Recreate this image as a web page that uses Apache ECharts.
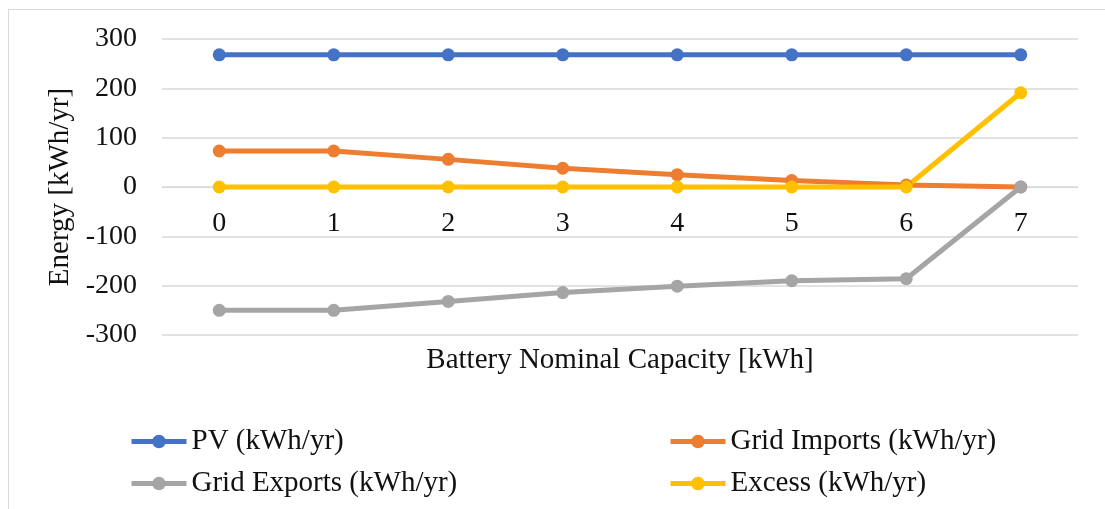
<!DOCTYPE html>
<html>
<head>
<meta charset="utf-8">
<script src="https://cdn.jsdelivr.net/npm/echarts@6/dist/echarts.min.js"></script>
<style>
  html, body { margin: 0; padding: 0; background: #fff; }
  #chart { width: 1105px; height: 509px; }
</style>
</head>
<body>
<div id="chart"></div>
<script>
// Battery nominal capacity steps (kWh)
const capacities = ['0', '1', '2', '3', '4', '5', '6', '7'];

// Annual energy flows per capacity (kWh/yr)
const pv          = [268, 268, 268, 268, 268, 268, 268, 268];
const gridImports = [73, 73, 56, 38, 25, 13, 4, 0];
const gridExports = [-250, -250, -232, -214, -201, -190, -186, 0];
const excess      = [0, 0, 0, 0, 0, 0, 0, 191];

const yTicks = [-300, -200, -100, 0, 100, 200, 300];

const FONT = '"Liberation Serif", "Times New Roman", serif';
const TEXT = '#111';

// plot box: top 39, bottom edge at 509 - 174 = 335; the zero line sits halfway
const GRID_TOP = 39, GRID_BOTTOM = 174;
const zeroOffset = -((509 - GRID_BOTTOM) - GRID_TOP) / 2;

function lineSeries(name, data, color) {
  return {
    name: name,
    type: 'line',
    data: data,
    symbol: 'circle',
    symbolSize: 13,
    lineStyle: { color: color, width: 5 },
    itemStyle: { color: color },
    animation: false
  };
}

const legendCommon = {
  orient: 'vertical',
  top: 427,
  padding: 0,
  itemWidth: 55, itemHeight: 17, itemGap: 13, itemTextGap: -1,
  lineStyle: { width: 5 },
  textStyle: { fontFamily: FONT, fontSize: 29, color: TEXT, lineHeight: 28 }
};

const chart = echarts.init(document.getElementById('chart'), null, { renderer: 'canvas' });

chart.setOption({
  backgroundColor: '#fff',
  animation: false,
  textStyle: { fontFamily: FONT, color: TEXT },
  graphic: [{
    type: 'rect',
    shape: { x: 8.5, y: 9.5, width: 1200, height: 600 },
    style: { fill: 'none', stroke: '#D9D9D9', lineWidth: 1 },
    silent: true,
    z: -10
  }],
  grid: {
    left: 162, right: 27, top: GRID_TOP, bottom: GRID_BOTTOM,
    containLabel: false,
    outerBoundsMode: 'none'
  },
  legend: [
    Object.assign({ data: ['PV (kWh/yr)', 'Grid Exports (kWh/yr)'], left: 129 }, legendCommon),
    Object.assign({ data: ['Grid Imports (kWh/yr)', 'Excess (kWh/yr)'], left: 668 }, legendCommon)
  ],
  xAxis: {
    type: 'category',
    data: capacities,
    boundaryGap: true,
    position: 'bottom',
    offset: zeroOffset,
    name: 'Battery Nominal Capacity [kWh]',
    nameLocation: 'middle',
    nameGap: 159,
    nameMoveOverlap: false,
    nameTextStyle: { fontFamily: FONT, fontSize: 29, color: TEXT },
    axisLine: { show: true, onZero: false, lineStyle: { color: '#D9D9D9', width: 1 } },
    axisTick: { show: false },
    axisLabel: { margin: 23, fontFamily: FONT, fontSize: 28, color: TEXT },
    splitLine: { show: false }
  },
  yAxis: {
    type: 'value',
    min: yTicks[0],
    max: yTicks[yTicks.length - 1],
    interval: 100,
    name: 'Energy [kWh/yr]',
    nameLocation: 'middle',
    nameGap: 86,
    nameTextStyle: { fontFamily: FONT, fontSize: 29, color: TEXT },
    axisLine: { show: false },
    axisTick: { show: false },
    axisLabel: { margin: 25, fontFamily: FONT, fontSize: 28, color: TEXT },
    splitLine: { show: true, lineStyle: { color: '#D9D9D9', width: 1.5 } }
  },
  series: [
    lineSeries('PV (kWh/yr)', pv, '#4472C4'),
    lineSeries('Grid Imports (kWh/yr)', gridImports, '#ED7D31'),
    lineSeries('Grid Exports (kWh/yr)', gridExports, '#A5A5A5'),
    lineSeries('Excess (kWh/yr)', excess, '#FFC000')
  ]
});
</script>
</body>
</html>
